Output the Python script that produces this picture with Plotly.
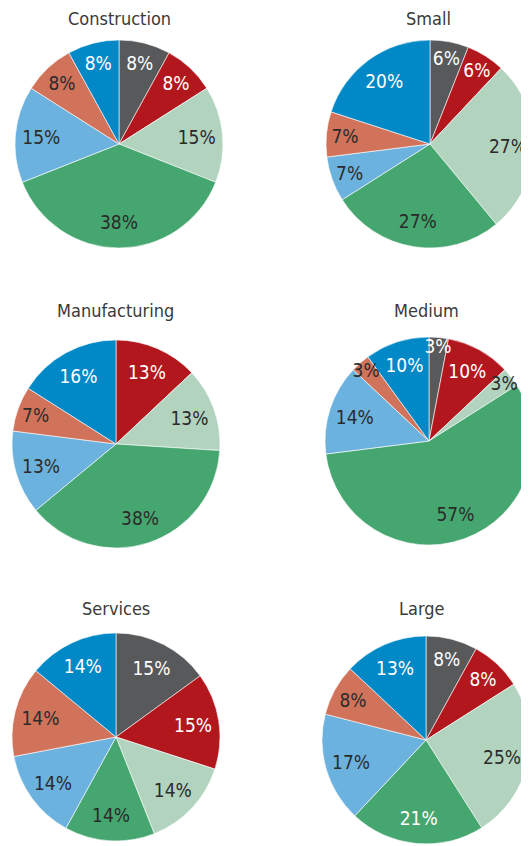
import plotly.graph_objects as go

# shares (%) by slice, clockwise from 12 o'clock
segments = ["Seg 1", "Seg 2", "Seg 3", "Seg 4", "Seg 5", "Seg 6", "Seg 7"]
construction = [8, 8, 15, 38, 15, 8, 8]
small = [6, 6, 27, 27, 7, 7, 20]
manufacturing = [0, 13, 13, 38, 13, 7, 16]
medium = [3, 10, 3, 57, 14, 3, 10]
services = [15, 15, 14, 14, 14, 14, 14]
large = [8, 8, 25, 21, 17, 8, 13]

titles = ["Construction", "Small", "Manufacturing", "Medium", "Services", "Large"]
series = [construction, small, manufacturing, medium, services, large]

colors = ["#58595b", "#b3171e", "#b2d4bf", "#46a66f", "#6cb2de", "#d0735a", "#0088c7"]
dark, white = "#2b2b2b", "#ffffff"
label_colors = [white, white, dark, dark, dark, dark, white]

# page body has an 8px margin, so work in page px and shift
OFF = 8
W, H = 540, 846 - OFF
R = 104
# pie centres in page px (x, y from top) and title positions
centres = [(119, 144), (430, 144), (116, 444), (429, 441), (116, 737), (426, 740)]
title_pos = [(119, 18), (428, 18), (115, 310), (426, 310), (116, 608), (422, 608)]

fig = go.Figure()
for i, (name, vals) in enumerate(zip(titles, series)):
    cx, cy = centres[i][0] - OFF, centres[i][1] - OFF
    dom = dict(x=[(cx - R) / W, (cx + R) / W],
               y=[1 - (cy + R) / H, 1 - (cy - R) / H])
    tc = list(label_colors)
    if name == "Large":
        tc[3] = white
    # coloured full pie
    fig.add_trace(go.Pie(
        labels=segments, values=vals, name=name, textinfo="none",
        sort=False, direction="clockwise", rotation=0,
        marker=dict(colors=colors, line=dict(color="white", width=0.6)),
        domain=dom, showlegend=False, hoverinfo="label+value",
    ))
    # transparent ring on top, only to push the labels outwards
    fig.add_trace(go.Pie(
        labels=segments, values=vals, name=name, hole=0.5,
        text=[f"{v}%" if v else "" for v in vals], textinfo="text",
        textposition="inside", insidetextorientation="horizontal",
        sort=False, direction="clockwise", rotation=0,
        marker=dict(colors=["rgba(0,0,0,0)"] * len(vals), line=dict(width=0)),
        textfont=dict(color=tc, size=19),
        domain=dom, showlegend=False, hoverinfo="skip",
    ))
    tx, ty = title_pos[i][0] - OFF, title_pos[i][1] - OFF
    fig.add_annotation(text=name, x=tx / W, y=1 - ty / H, xref="paper", yref="paper",
                       xanchor="center", yanchor="middle",
                       showarrow=False, font=dict(size=18, color="#3a3a3a"))

fig.update_layout(
    width=W, height=H, margin=dict(l=0, r=0, t=0, b=0),
    paper_bgcolor="white", plot_bgcolor="white",
    font=dict(family="DejaVu Sans Condensed, sans-serif"),
    uniformtext=dict(minsize=19, mode="show"),
)

fig.write_html("out.html")
